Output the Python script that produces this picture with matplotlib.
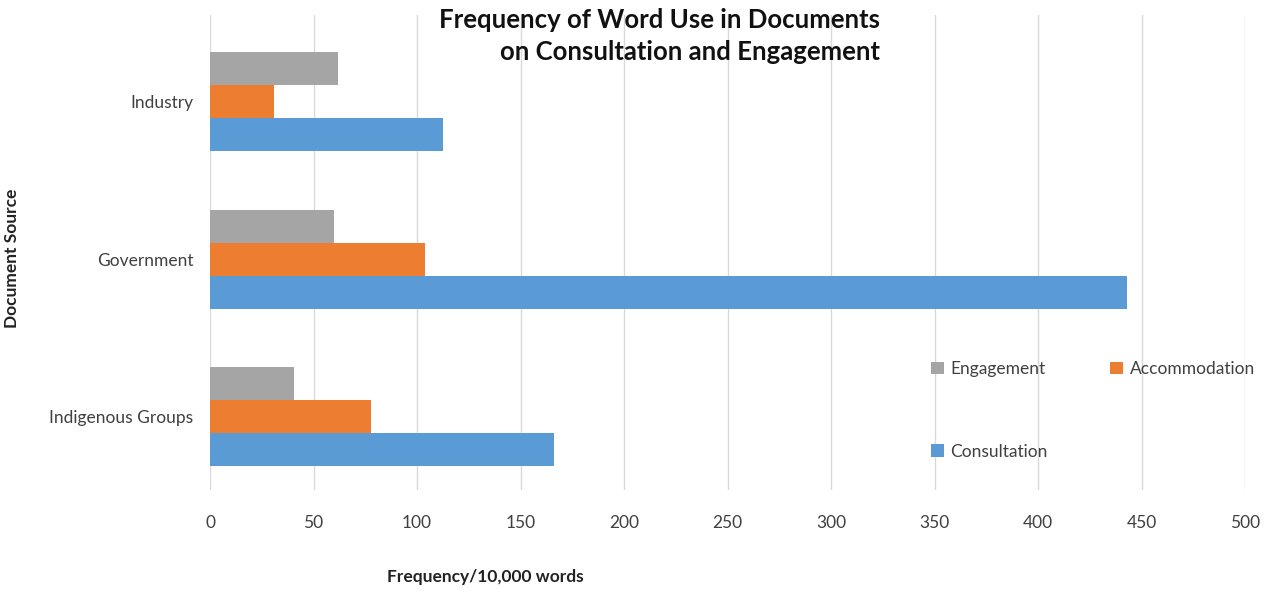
import numpy as np
import matplotlib.pyplot as plt

plt.rcParams['font.family'] = ['Lato', 'DejaVu Sans']

# data
sources = ['Indigenous Groups', 'Government', 'Industry']
consultation = [166, 443, 112.5]
accommodation = [78, 104, 31]
engagement = [40.5, 60, 62]
x_ticks = [0, 50, 100, 150, 200, 250, 300, 350, 400, 450, 500]

c_blue = '#5b9bd5'
c_orange = '#ed7d31'
c_gray = '#a5a5a5'

fig = plt.figure(figsize=(12.75, 5.92), dpi=100)
ax = fig.add_axes([210 / 1275, 1 - 490 / 592, 1035 / 1275, 475 / 592])

y = np.arange(len(sources))
h = 0.21
b1 = ax.barh(y - h, consultation, height=h, color=c_blue, label='Consultation')
b2 = ax.barh(y, accommodation, height=h, color=c_orange, label='Accommodation')
b3 = ax.barh(y + h, engagement, height=h, color=c_gray, label='Engagement')

ax.set_xlim(0, 500)
ax.set_ylim(-0.468, 2.552)
ax.set_xticks(x_ticks)
ax.set_yticks(y)
ax.set_yticklabels(sources)
ax.tick_params(length=0, labelsize=12.5, colors='#404040')
ax.tick_params(axis='x', pad=18)
ax.tick_params(axis='y', pad=12)
ax.grid(axis='x', color='#d9d9d9', linewidth=1)
ax.set_axisbelow(True)
for s in ax.spines.values():
    s.set_visible(False)

fig.text(485 / 1275, 1 - 577 / 592, 'Frequency/10,000 words', ha='center', va='center',
         fontsize=12.5, fontweight='bold', color='#222222')
fig.text(12 / 1275, 1 - 258 / 592, 'Document Source', ha='center', va='center',
         rotation=90, fontsize=12.5, fontweight='bold', color='#222222')
fig.text(880 / 1275, 1 - 36 / 592,
         'Frequency of Word Use in Documents\non Consultation and Engagement',
         ha='right', va='center', multialignment='right', fontsize=18.5,
         fontweight='bold', color='#111111', linespacing=1.42)

leg = ax.legend([b3, b1, b2], ['Engagement', 'Consultation', 'Accommodation'],
                ncol=2, loc='upper left', bbox_to_anchor=(0.682, 0.305),
                frameon=False, fontsize=12.5, handlelength=0.7, handleheight=0.7,
                handletextpad=0.4, columnspacing=3.6, labelspacing=3.85)
for t in leg.get_texts():
    t.set_color('#404040')

fig.savefig('out.png', dpi=100)
